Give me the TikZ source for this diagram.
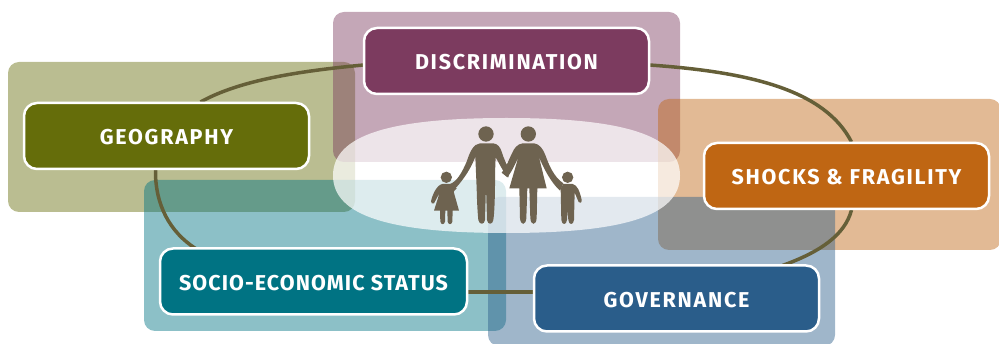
\documentclass[tikz,border=0pt]{standalone}
\usepackage{fontspec}
\setmainfont[LetterSpace=8]{Fira Sans}
\definecolor{colGeo}{HTML}{656D0A}
\definecolor{colDis}{HTML}{7C3B5F}
\definecolor{colSho}{HTML}{BF6613}
\definecolor{colSoc}{HTML}{007383}
\definecolor{colGov}{HTML}{2A5D8A}
\definecolor{colLink}{HTML}{655F38}
\definecolor{colFam}{HTML}{6E6350}
\tikzset{
  panel/.style={fill=#1,fill opacity=.45,rounded corners=11pt},
  card/.style={draw=white,line width=2.5pt,fill=#1,rounded corners=13pt,text=white,
    font=\fontsize{21.5}{24}\selectfont\bfseries,minimum width=285pt,minimum height=66pt,
    text height=18pt,text depth=0pt,inner sep=0pt,outer sep=0pt,anchor=center},
  link/.style={draw=colLink,line width=3.5pt},
  fam/.style={fill=colFam,draw=none}
}
\begin{document}
\begin{tikzpicture}[x=1pt,y=-1pt]
\useasboundingbox (0,0) rectangle (999,344);
% translucent panels
\fill[panel=colGeo] (8,62) rectangle (355,212);
\fill[panel=colDis] (333,12) rectangle (680,162);
\fill[panel=colSho] (658,99) rectangle (1001,250);
\fill[panel=colSoc] (144,180) rectangle (506,331);
\fill[panel=colGov] (488,197) rectangle (835,346);
% anchor points of the links
\path (506.5,61) coordinate (cDis) (166.5,136) coordinate (cGeo) (846.5,176) coordinate (cSho)
      (313.5,281.5) coordinate (cSoc) (676.5,298.5) coordinate (cGov);
\path (cDis) ++(-143,4) coordinate (disL) (cDis) ++(143,4) coordinate (disR)
      (cGeo) ++(34,-34) coordinate (geoT) (cGeo) ++(-11,34) coordinate (geoB)
      (cSoc) ++(-118,-33) coordinate (socT) (cSoc) ++(143,10.5) coordinate (socR)
      (cGov) ++(-143,-6.5) coordinate (govL) (cGov) ++(106,-33) coordinate (govT)
      (cSho) ++(5,-34) coordinate (shoT) (cSho) ++(5,34) coordinate (shoB);
\draw[link] (disL) .. controls (300,71) and (240,80) .. (geoT);
\draw[link] (geoB) .. controls (155,205) and (170,232) .. (socT);
\draw[link] (socR) -- (govL);
\draw[link] (govT) .. controls (820,252) and (845,235) .. (shoB);
\draw[link] (shoT) .. controls (825,90) and (750,72) .. (disR);
% central white lozenge
\fill[white,fill opacity=.7] (333,175.5) .. controls (333,135) and (390,118) .. (506.5,118)
   .. controls (623,118) and (680,135) .. (680,175.5)
   .. controls (680,216) and (623,233) .. (506.5,233)
   .. controls (390,233) and (333,216) .. (333,175.5) -- cycle;
\node[card=colDis] (dis) at (cDis) {DISCRIMINATION};
\node[card=colGeo] (geo) at (cGeo) {GEOGRAPHY};
\node[card=colSho] (sho) at (cSho) {SHOCKS \& FRAGILITY};
\node[card=colSoc,minimum width=307pt] (soc) at (cSoc) {\addfontfeature{LetterSpace=5}SOCIO-ECONOMIC STATUS};
\node[card=colGov] (gov) at (cGov) {GOVERNANCE};
% man and girl
\begin{scope}[shift={(425,120)},x=.3333pt,y=-.3333pt]
 \fill[fam] (183,42) circle[radius=23];
 \fill[fam] (64,172) circle[radius=17];
 \fill[fam] (165,70) -- (205,70) .. controls (218,72) and (225,80) .. (230,95)
   .. controls (236,115) and (245,135) .. (255,150) -- (250,172) .. controls (240,165) and (225,135) .. (212,112)
   .. controls (210,150) and (210,180) .. (210,210) .. controls (209,250) and (208,280) .. (205,300)
   .. controls (203,315) and (188,315) .. (186,300) -- (183,200) -- (180,300)
   .. controls (178,315) and (163,315) .. (160,300) .. controls (157,270) and (156,240) .. (155,205)
   -- (151,110) .. controls (140,140) and (120,175) .. (85,212) -- (75,192)
   .. controls (95,185) and (110,160) .. (125,125) .. controls (135,95) and (145,72) .. (165,70) -- cycle;
 % girl
 \fill[fam] (52,192) -- (78,192) -- (95,205) -- (86,215) -- (102,272) -- (83,272)
   -- (82,305) .. controls (80,315) and (70,315) .. (68,305) -- (67,272) -- (61,272)
   -- (60,305) .. controls (58,315) and (48,315) .. (46,305) -- (45,272) -- (27,272)
   -- (44,218) -- (27,250) .. controls (22,252) and (18,250) .. (18,244)
   .. controls (22,225) and (35,195) .. (52,192) -- cycle;
\end{scope}
% woman and boy
\begin{scope}[shift={(500,120)},x=.3333pt,y=-.3333pt]
 \fill[fam] (85,42) circle[radius=23];
 \fill[fam] (203,172) circle[radius=17];
 \fill[fam] (68,70) -- (102,70) .. controls (118,72) and (128,85) .. (136,105)
   .. controls (145,130) and (160,170) .. (190,190) -- (180,212)
   .. controls (155,190) and (130,145) .. (116,108) -- (140,205) -- (112,205) -- (110,295)
   .. controls (108,317) and (93,317) .. (91,295) -- (88,205) -- (82,205) -- (79,295)
   .. controls (77,317) and (62,317) .. (60,295) -- (58,205) -- (28,205)
   -- (56,108) .. controls (45,135) and (35,155) .. (22,172) -- (5,158)
   .. controls (20,140) and (28,115) .. (36,100) .. controls (42,85) and (52,72) .. (68,70) -- cycle;
 % boy
 \fill[fam] (190,192) -- (218,192) .. controls (232,195) and (240,215) .. (245,240)
   .. controls (246,250) and (238,250) .. (236,246) -- (224,218) -- (222,300)
   .. controls (220,316) and (207,316) .. (205,300) -- (203,270) -- (201,300)
   .. controls (199,316) and (186,316) .. (184,300) -- (182,205) -- cycle;
\end{scope}
\end{tikzpicture}
\end{document}
